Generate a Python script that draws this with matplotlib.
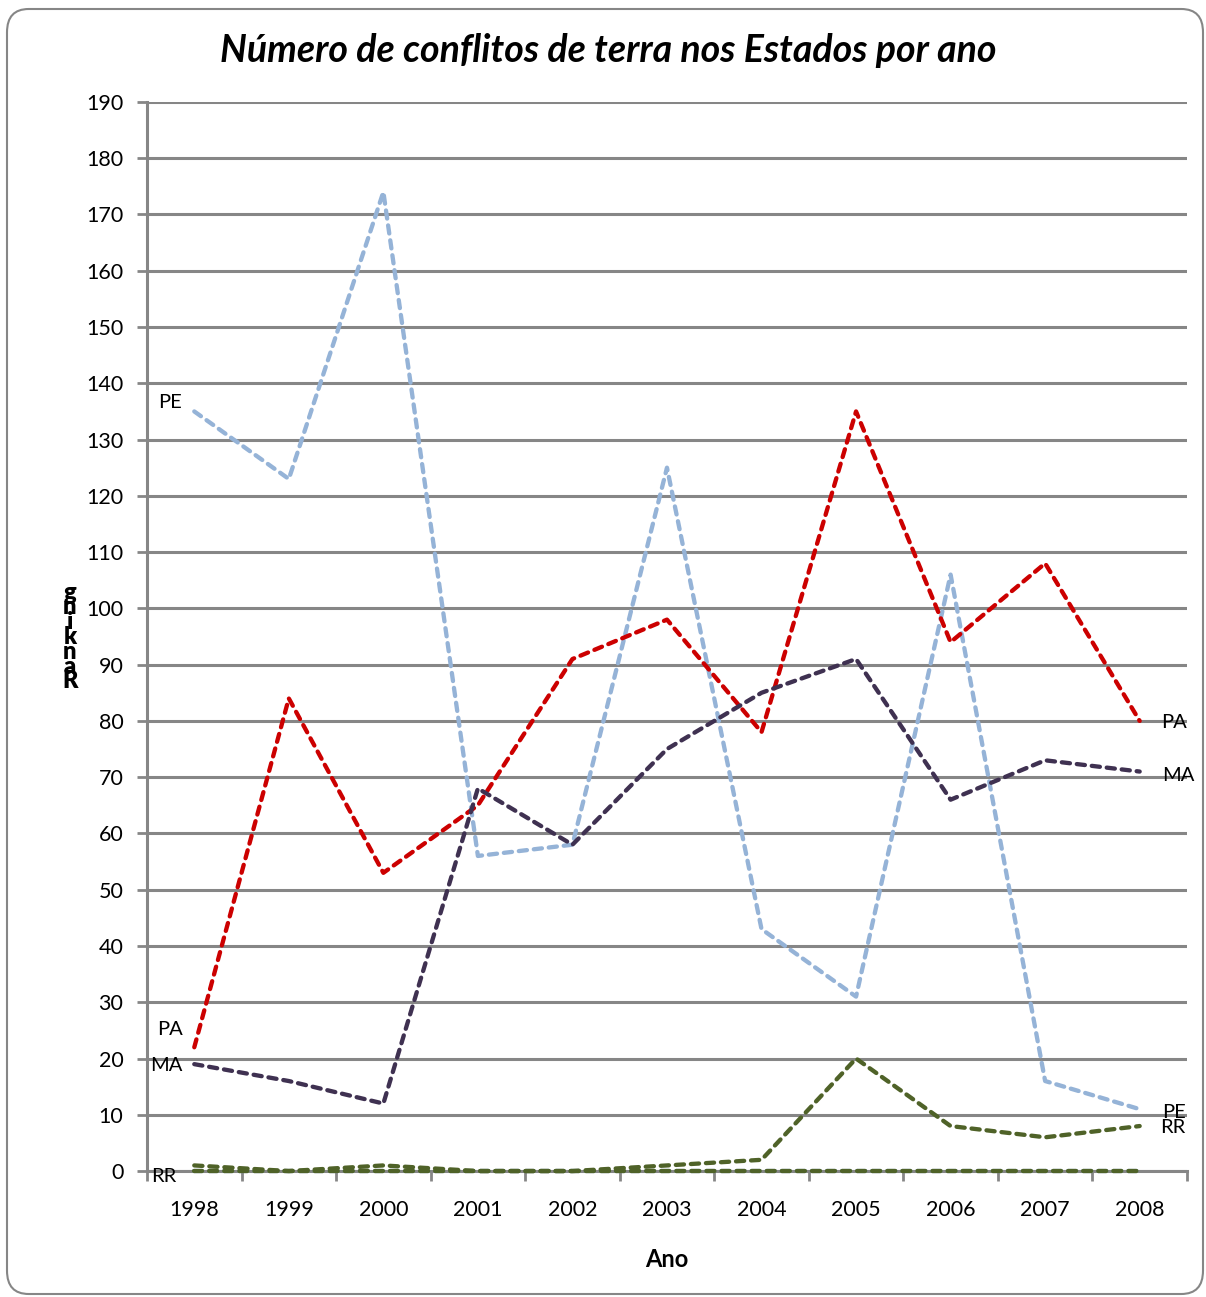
"""Land conflicts per state and year, line chart."""

import matplotlib.pyplot as plt
from matplotlib.patches import FancyBboxPatch

YEARS = ["1998", "1999", "2000", "2001", "2002", "2003", "2004", "2005", "2006", "2007", "2008"]
PE = [135, 123, 174, 56, 58, 125, 43, 31, 106, 16, 11]
PA = [22, 84, 53, 65, 91, 98, 78, 135, 94, 108, 80]
MA = [19, 16, 12, 68, 58, 75, 85, 91, 66, 73, 71]
RR = [1, 0, 1, 0, 0, 1, 2, 20, 8, 6, 8]
ZERO_A = [0, 0, 0, 0, 0, 0, 0, 0, 0, 0, 0]
ZERO_B = [0, 0, 0, 0, 0, 0, 0, 0, 0, 0, 0]

COLORS = {"PE": "#95B3D7", "PA": "#CC0000", "MA": "#3F3151", "RR": "#4F6228"}
GRID = "#868686"
FONT = ["Lato", "DejaVu Sans"]

fig = plt.figure(figsize=(12.06, 12.97), dpi=100)
ax = fig.add_axes([0.1219, 0.0971, 0.8623, 0.8243])

x = range(len(YEARS))
style = dict(lw=3.1, dashes=(1.9, 1.6), dash_capstyle="round", solid_capstyle="round",
             zorder=3, clip_on=False)
ax.plot(x, ZERO_A, color=COLORS["PE"], **style)
ax.plot(x, ZERO_B, color=COLORS["RR"], **style)
ax.plot(x, PE, color=COLORS["PE"], **style)
ax.plot(x, PA, color=COLORS["PA"], **style)
ax.plot(x, MA, color=COLORS["MA"], **style)
ax.plot(x, RR, color=COLORS["RR"], **style)

lab = dict(textcoords="offset pixels", ha="center", va="center", fontsize=14.5, family=FONT)
ax.annotate("PE", (0, PE[0]), xytext=(-24, 9), **lab)
ax.annotate("PA", (0, PA[0]), xytext=(-24, 18), **lab)
ax.annotate("MA", (0, MA[0]), xytext=(-28, -1), **lab)
ax.annotate("RR", (0, RR[0]), xytext=(-31, -11), **lab)
ax.annotate("PA", (10, PA[-1]), xytext=(34, -2), **lab)
ax.annotate("MA", (10, MA[-1]), xytext=(39, -4), **lab)
ax.annotate("PE", (10, PE[-1]), xytext=(34, -3), **lab)
ax.annotate("RR", (10, RR[-1]), xytext=(33, -1), **lab)

ax.set_xlim(-0.5, 10.5)
ax.set_ylim(0, 190)
ax.set_yticks(range(0, 191, 10))
ax.set_xticks(list(x))
ax.set_xticklabels(YEARS)
ax.set_xticks([i - 0.5 for i in range(len(YEARS) + 1)], minor=True)
ax.tick_params(axis="x", which="major", length=0, pad=21)
ax.tick_params(axis="x", which="minor", length=7, width=2, color=GRID)
ax.tick_params(axis="y", length=7, width=2, color=GRID, pad=10)
for t in ax.get_xticklabels() + ax.get_yticklabels():
    t.set_fontsize(15.5)
    t.set_family(FONT)

ax.grid(axis="y", color=GRID, lw=2.2)
ax.set_axisbelow(True)
for side in ("top", "right"):
    ax.spines[side].set_visible(False)
for side in ("left", "bottom"):
    ax.spines[side].set_color(GRID)
    ax.spines[side].set_linewidth(2.2)

ax.set_xlabel("Ano", fontsize=17, fontweight="bold", family=FONT, labelpad=20)
fig.text(70 / 1206, 1 - 637 / 1297, "g\nn\ni\nk\nn\na\nR", ha="center", va="center",
         fontsize=17, fontweight="heavy", family=FONT, linespacing=0.6)
fig.text(608 / 1206, 1 - 50 / 1297, "Número de conflitos de terra nos Estados por ano",
         ha="center", va="center", fontsize=27, fontweight="bold", style="italic", family=FONT)

frame = FancyBboxPatch((7 / 1206, 3 / 1297), 1196 / 1206, 1285 / 1297,
                       boxstyle="round,pad=0,rounding_size=0.018", transform=fig.transFigure,
                       fill=False, edgecolor=GRID, lw=1.5)
fig.patches.append(frame)

fig.savefig("out.png", dpi=100)
